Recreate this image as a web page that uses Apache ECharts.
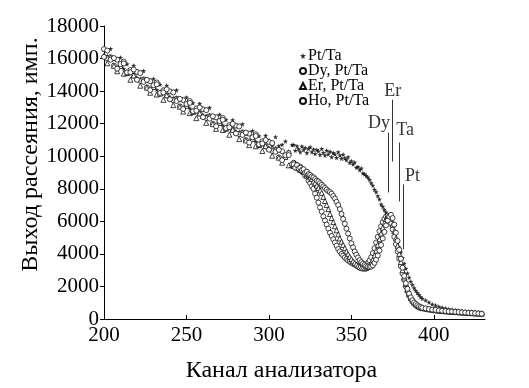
<!DOCTYPE html>
<html>
<head>
<meta charset="utf-8">
<script src="https://cdn.jsdelivr.net/npm/echarts@6/dist/echarts.min.js"></script>
<style>html,body{margin:0;padding:0;background:#fff;}#c{width:529px;height:388px;}</style>
</head>
<body>
<div id="c"></div>
<script>
// Channel numbers (analyser channels)
const channels = [
200,202,204,206,208,210,212,214,216,218,220,222,224,226,228,230,232,234,236,238,
240,242,244,246,248,250,252,254,256,258,260,262,264,266,268,270,272,274,276,278,
280,282,284,286,288,290,292,294,296,298,300,302,304,306,308,310,312,314,
315,316,317,318,319,320,321,322,323,324,325,326,327,328,329,330,331,332,333,334,
335,336,337,338,339,340,341,342,343,344,345,346,347,348,349,350,351,352,353,354,
355,356,357,358,359,360,361,362,363,364,365,366,367,368,369,370,371,372,373,374,
375,376,377,378,379,380,381,382,383,384,385,386,387,388,389,390,391,392,393,
395,397,399,401,403,405,407,409,411,413,415,417,419,421,423,425,427,429
];

const yieldPtTa = [
16560,16150,16600,15960,15950,16060,15360,15660,15320,15560,15160,14770,15240,14620,14630,14760,14080,14400,14080,14340,
13960,13580,14060,13450,13470,13610,12940,13270,12960,13230,12860,12490,12980,12380,12410,12560,11900,12240,11940,12220,
11860,11490,11980,11380,11410,11560,10900,11240,10940,11270,10960,10640,11180,10630,10710,10910,10300,10690,
10700,10350,10620,10430,10250,10600,10380,10520,10200,10450,10560,10250,10420,10150,10390,10300,10080,10450,10210,10050,
10350,10120,10280,9950,10200,10120,9900,10250,10050,9850,10100,9880,9760,9950,9600,9700,9500,9620,9300,9350,
9150,9250,8950,8900,8800,8700,8550,8350,8200,7950,7800,7550,7350,7050,6900,6700,6550,6350,6100,5800,
5500,5250,4950,4700,4400,4100,3750,3400,3100,2800,2550,2300,2100,1900,1750,1600,1480,1350,1250,
1150,1020,900,840,760,700,660,610,580,540,520,500,480,460,440,430,410,400
];

const yieldDy = [
16580,16010,16080,15570,15930,15560,15810,15100,15290,14950,15180,14630,14720,14230,14610,14260,14530,13840,14050,13730,
13980,13440,13540,13060,13450,13110,13390,12710,12930,12620,12880,12350,12460,11990,12390,12060,12350,11680,11910,11610,
11880,11350,11460,10990,11390,11060,11350,10680,10910,10610,10880,10330,10420,9930,10310,9960,10180,9450,
9600,9350,9450,9200,9350,9050,9000,8800,8750,8500,8350,8150,8000,7700,7450,7150,6850,6600,6300,6050,
5800,5550,5300,5100,4900,4700,4500,4300,4150,4000,3900,3780,3680,3600,3520,3450,3400,3350,3300,3250,
3220,3200,3230,3280,3350,3450,3600,3800,4050,4350,4700,5050,5400,5700,5950,6150,6300,6350,6200,5900,
5500,5050,4600,4150,3700,3250,2800,2400,2000,1700,1450,1250,1100,980,880,800,740,700,660,
620,580,550,520,500,480,460,450,430,420,400,390,370,360,350,330,320,300
];

const yieldEr = [
16170,15710,16070,15550,15220,15550,15070,15110,14700,14960,14770,14330,14710,14210,13900,14250,13790,13850,13460,13740,
13570,13140,13530,13040,12740,13100,12650,12720,12340,12630,12470,12050,12450,11970,11680,12050,11610,11690,11320,11620,
11470,11050,11450,10970,10680,11050,10610,10690,10320,10620,10470,10030,10410,9910,9600,9950,9440,9460,
9400,9550,9300,9400,9150,9250,9050,9100,8900,8850,8700,8600,8450,8350,8200,8050,7900,7750,7500,7250,
7000,6750,6450,6200,5950,5700,5450,5200,4950,4750,4550,4350,4150,3980,3820,3680,3550,3450,3350,3270,
3200,3150,3120,3100,3130,3200,3300,3450,3650,3900,4200,4550,4900,5250,5600,5900,6150,6300,6350,6150,
5800,5400,4950,4500,4000,3500,3000,2550,2150,1800,1520,1300,1130,1000,900,820,760,710,670,
640,600,570,540,520,500,480,460,450,430,420,400,390,380,360,350,340,330
];

const yieldHo = [
16100,16490,15930,16030,15380,15660,15700,15150,15160,15330,14700,15110,14570,14690,14060,14360,14420,13890,13920,14110,
13500,13920,13390,13520,12900,13210,13280,12760,12800,13000,12400,12830,12310,12450,11840,12160,12240,11730,11780,11990,
11400,11830,11310,11450,10840,11160,11240,10730,10780,10990,10400,10810,10270,10390,9760,10060,10070,9500,
9500,9300,9450,9250,9300,9150,9200,9000,9050,8900,8850,8750,8700,8600,8500,8450,8350,8250,8150,8050,
7950,7850,7800,7700,7550,7400,7200,7000,6750,6450,6150,5850,5550,5250,4950,4650,4400,4150,3950,3780,
3620,3500,3400,3320,3260,3220,3200,3220,3300,3450,3650,3900,4200,4550,4950,5350,5750,6050,6300,6400,
6200,5800,5300,4800,4250,3700,3150,2650,2200,1850,1560,1330,1150,1020,920,840,780,730,690,
650,610,580,560,530,510,490,470,460,440,430,410,400,380,370,360,340,320
];

// Edge markers: label, label position [channel, yield], arrow from/to yields at channel
const edgeNames = ['Er', 'Dy', 'Ta', 'Pt'];
const edgeLabelAt = [[375.0, 14000], [366.7, 12020], [382.6, 11600], [387.0, 8750]];
const edgeArrowChannel = [374.5, 372.1, 379.3, 381.6];
const edgeArrowFrom = [13470, 11450, 10840, 8265];
const edgeArrowTo = [9670, 7775, 7225, 4285];

const seriesNames = ['Pt/Ta', 'Dy, Pt/Ta', 'Er, Pt/Ta', 'Ho, Pt/Ta'];

const FONT = '"Liberation Serif", "Times New Roman", serif';
const pairs = arr => channels.map((c, i) => [c, arr[i]]);
const STAR = 'path://M5,0 L6.2,3.3 L10,3.8 L7,6.2 L7.9,10 L5,7.9 L2.1,10 L3,6.2 L0,3.8 L3.8,3.3 Z';

const chart = echarts.init(document.getElementById('c'), null, {renderer: 'canvas'});

const markerBase = {
  type: 'scatter',
  symbolSize: 5,
  itemStyle: {color: '#fff', borderColor: '#111', borderWidth: 0.8, opacity: 1},
  emphasis: {disabled: true},
  silent: true
};

chart.setOption({
  animation: false,
  backgroundColor: '#fff',
  textStyle: {fontFamily: FONT, color: '#000'},
  grid: {left: 104, right: 44, top: 26, bottom: 68, containLabel: false},
  legend: {
    orient: 'vertical',
    left: 294,
    top: 43,
    itemWidth: 6,
    itemHeight: 6,
    itemGap: -1,
    data: seriesNames,
    textStyle: {fontFamily: FONT, fontSize: 16, color: '#000', padding: [0, 0, 0, -3]}
  },
  xAxis: {
    type: 'value',
    min: 200,
    max: 431,
    interval: 50,
    axisLine: {lineStyle: {color: '#000', width: 1}},
    axisTick: {inside: true, length: 4, lineStyle: {color: '#000'}},
    axisLabel: {fontFamily: FONT, fontSize: 21, color: '#000', margin: 6, showMaxLabel: false,
      formatter: v => String(v)},
    splitLine: {show: false},
    name: 'Канал анализатора',
    nameLocation: 'middle',
    nameGap: 40,
    nameMoveOverlap: false,
    nameTextStyle: {fontFamily: FONT, fontSize: 24, color: '#000', padding: [0, 26, 0, 0]}
  },
  yAxis: {
    type: 'value',
    min: 0,
    max: 18000,
    interval: 2000,
    axisLine: {show: true, lineStyle: {color: '#000', width: 1}},
    axisTick: {show: true, inside: false, length: 4, lineStyle: {color: '#000'}},
    axisLabel: {fontFamily: FONT, fontSize: 21, color: '#000', margin: 5, formatter: v => String(v)},
    splitLine: {show: false},
    name: 'Выход рассеяния, имп.',
    nameLocation: 'middle',
    nameGap: 61,
    nameMoveOverlap: false,
    nameTextStyle: {fontFamily: FONT, fontSize: 24, color: '#000', padding: [0, 0, 0, 36]}
  },
  series: [
    Object.assign({}, markerBase, {
      name: seriesNames[0], symbol: STAR, symbolSize: 5,
      itemStyle: {color: '#000', borderWidth: 0},
      data: pairs(yieldPtTa),
      markLine: {
        silent: true,
        symbol: ['none', 'arrow'],
        symbolSize: [0, 7],
        label: {show: false},
        lineStyle: {color: '#333', width: 1, type: 'solid'},
        data: edgeArrowChannel.map((c, i) => [{coord: [c, edgeArrowFrom[i]]}, {coord: [c, edgeArrowTo[i]]}])
      }
    }),
    Object.assign({}, markerBase, {name: seriesNames[1], symbol: 'circle', data: pairs(yieldDy)}),
    Object.assign({}, markerBase, {name: seriesNames[2], symbol: 'triangle', data: pairs(yieldEr)}),
    Object.assign({}, markerBase, {name: seriesNames[3], symbol: 'circle', data: pairs(yieldHo)}),
    {
      type: 'scatter',
      name: 'edges',
      symbolSize: 0,
      silent: true,
      data: edgeNames.map((n, i) => ({name: n, value: edgeLabelAt[i]})),
      label: {show: true, position: 'inside', formatter: p => p.name, fontFamily: FONT, fontSize: 18, color: '#000'}
    }
  ]
});
</script>
</body>
</html>
